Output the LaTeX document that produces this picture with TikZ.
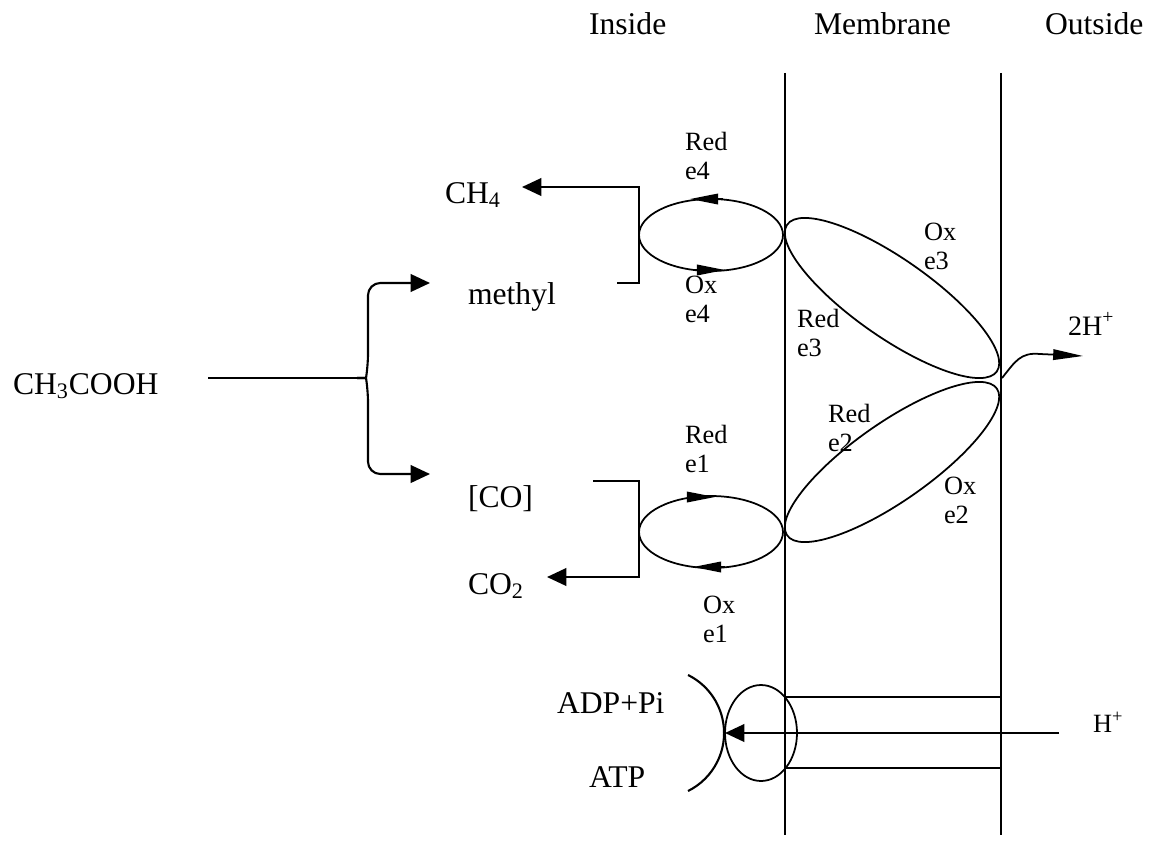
\documentclass[tikz,border=0pt]{standalone}
\usepackage{fontspec}
\setmainfont{Liberation Serif}
\usetikzlibrary{shapes.geometric,arrows.meta}

\begin{document}
\begin{tikzpicture}[
    x=0.02cm, y=-0.02cm,
    every node/.style={inner sep=0pt, outer sep=0pt},
    label/.style={anchor=base west, font=\fontsize{18}{21}\selectfont},
    small/.style={anchor=base west, align=left, font=\fontsize{15}{16}\selectfont},
    wall/.style={line width=1.2pt},
    conn/.style={line width=1.2pt},
    arrow/.style={conn, -{Triangle[length=11pt,width=10pt]}},
    cycarrow/.style={line width=1pt, -{Triangle[length=16pt,width=6pt]}},
    carrier/.style={ellipse, draw, line width=1pt, inner sep=0pt}
]
\useasboundingbox (0,0) rectangle (1151,865);

% Region titles
\node[label] (inside) at (589,35) {Inside};
\node[label] (membrane) at (814,35) {Membrane};
\node[label] (outside) at (1045,35) {Outside};

% Membrane walls
\draw[wall] (785,73) -- (785,835);
\draw[wall] (1001,73) -- (1001,835);

% Substrates and products
\node[label] (acid) at (13,394) {CH\textsubscript{3}COOH};
\node[label] (ch4) at (445,203) {CH\textsubscript{4}};
\node[label] (methyl) at (468,304) {methyl};
\node[label] (co) at (468,507) {[CO]};
\node[label] (co2) at (468,594) {CO\textsubscript{2}};
\node[label] (adp) at (557,713) {ADP+Pi};
\node[label] (atp) at (589,787) {ATP};

% Electron carriers
\node[carrier, minimum width=2.88cm, minimum height=1.44cm] (e4) at (711,235) {};
\node[carrier, minimum width=2.88cm, minimum height=1.44cm] (e1) at (711,532) {};
\node[carrier, minimum width=5.12cm, minimum height=1.56cm, rotate=-35] (e3) at (892,298) {};
\node[carrier, minimum width=5.12cm, minimum height=1.56cm, rotate=35] (e2) at (892,462) {};
\node[carrier, minimum width=1.44cm, minimum height=1.92cm] (synth) at (761,733) {};

% Carrier labels (placed at the baseline of the second line)
\node[small] (red4) at (685,179) {Red\\e4};
\node[small] (ox4) at (685,322) {Ox\\e4};
\node[small] (red1) at (685,472) {Red\\e1};
\node[small] (ox1) at (703,642) {Ox\\e1};
\node[small] (ox3) at (924,269) {Ox\\e3};
\node[small] (red3) at (797,356) {Red\\e3};
\node[small] (red2) at (828,451) {Red\\e2};
\node[small] (ox2) at (944,523) {Ox\\e2};
\node[small, font=\fontsize{16}{18}\selectfont] (h2) at (1068,335) {2H\textsuperscript{+}};
\node[small] (h1) at (1093,732) {H\textsuperscript{+}};

% Free ends
\coordinate (trunk) at (208,378);
\coordinate (fork) at (357,378);
\coordinate (tomethyl) at (430,283);
\coordinate (toco) at (430,474);
\coordinate (mout) at (617,283);
\coordinate (ch4in) at (522,187);
\coordinate (coout) at (593,481);
\coordinate (co2in) at (547,577);
\coordinate (hout) at (1002,378);
\coordinate (h2in) at (1083,356);
\coordinate (hin) at (1059,733);

% Splitting of acetate
\draw[conn] (trunk) -- (fork);
\draw[arrow, rounded corners=7pt] (fork) .. controls (366,378) .. (368,366) -- (368,283) -- (tomethyl);
\draw[arrow, rounded corners=7pt] (fork) .. controls (366,378) .. (368,390) -- (368,474) -- (toco);

% Methyl and CO branches
\draw[arrow] (mout) -| (e4.west) |- (ch4in);
\draw[arrow] (coout) -| (e1.west) |- (co2in);

% Cycle direction
\draw[cycarrow] (e4.north) ++(12,0) -- ++(-33,0);
\draw[cycarrow] (e4.south) ++(-16,-1) -- ++(30,0);
\draw[cycarrow] (e1.north) ++(-23,1) -- ++(27,0);
\draw[cycarrow] (e1.south) ++(14,-1) -- ++(-32,0);

% Proton release
\draw[line width=1pt, -{Triangle[length=17pt,width=6pt]}] (hout) .. controls (1015,362) and (1020,352) .. (1040,354) -- (h2in);

% ATP synthase
\draw[conn] (688,675) arc[start angle=-63.7, end angle=63.7, radius=64.7];
\draw[conn] (785,697) -- (1001,697);
\draw[conn] (785,768) -- (1001,768);
\draw[arrow] (hin) -- (synth.west);

\end{tikzpicture}
\end{document}
